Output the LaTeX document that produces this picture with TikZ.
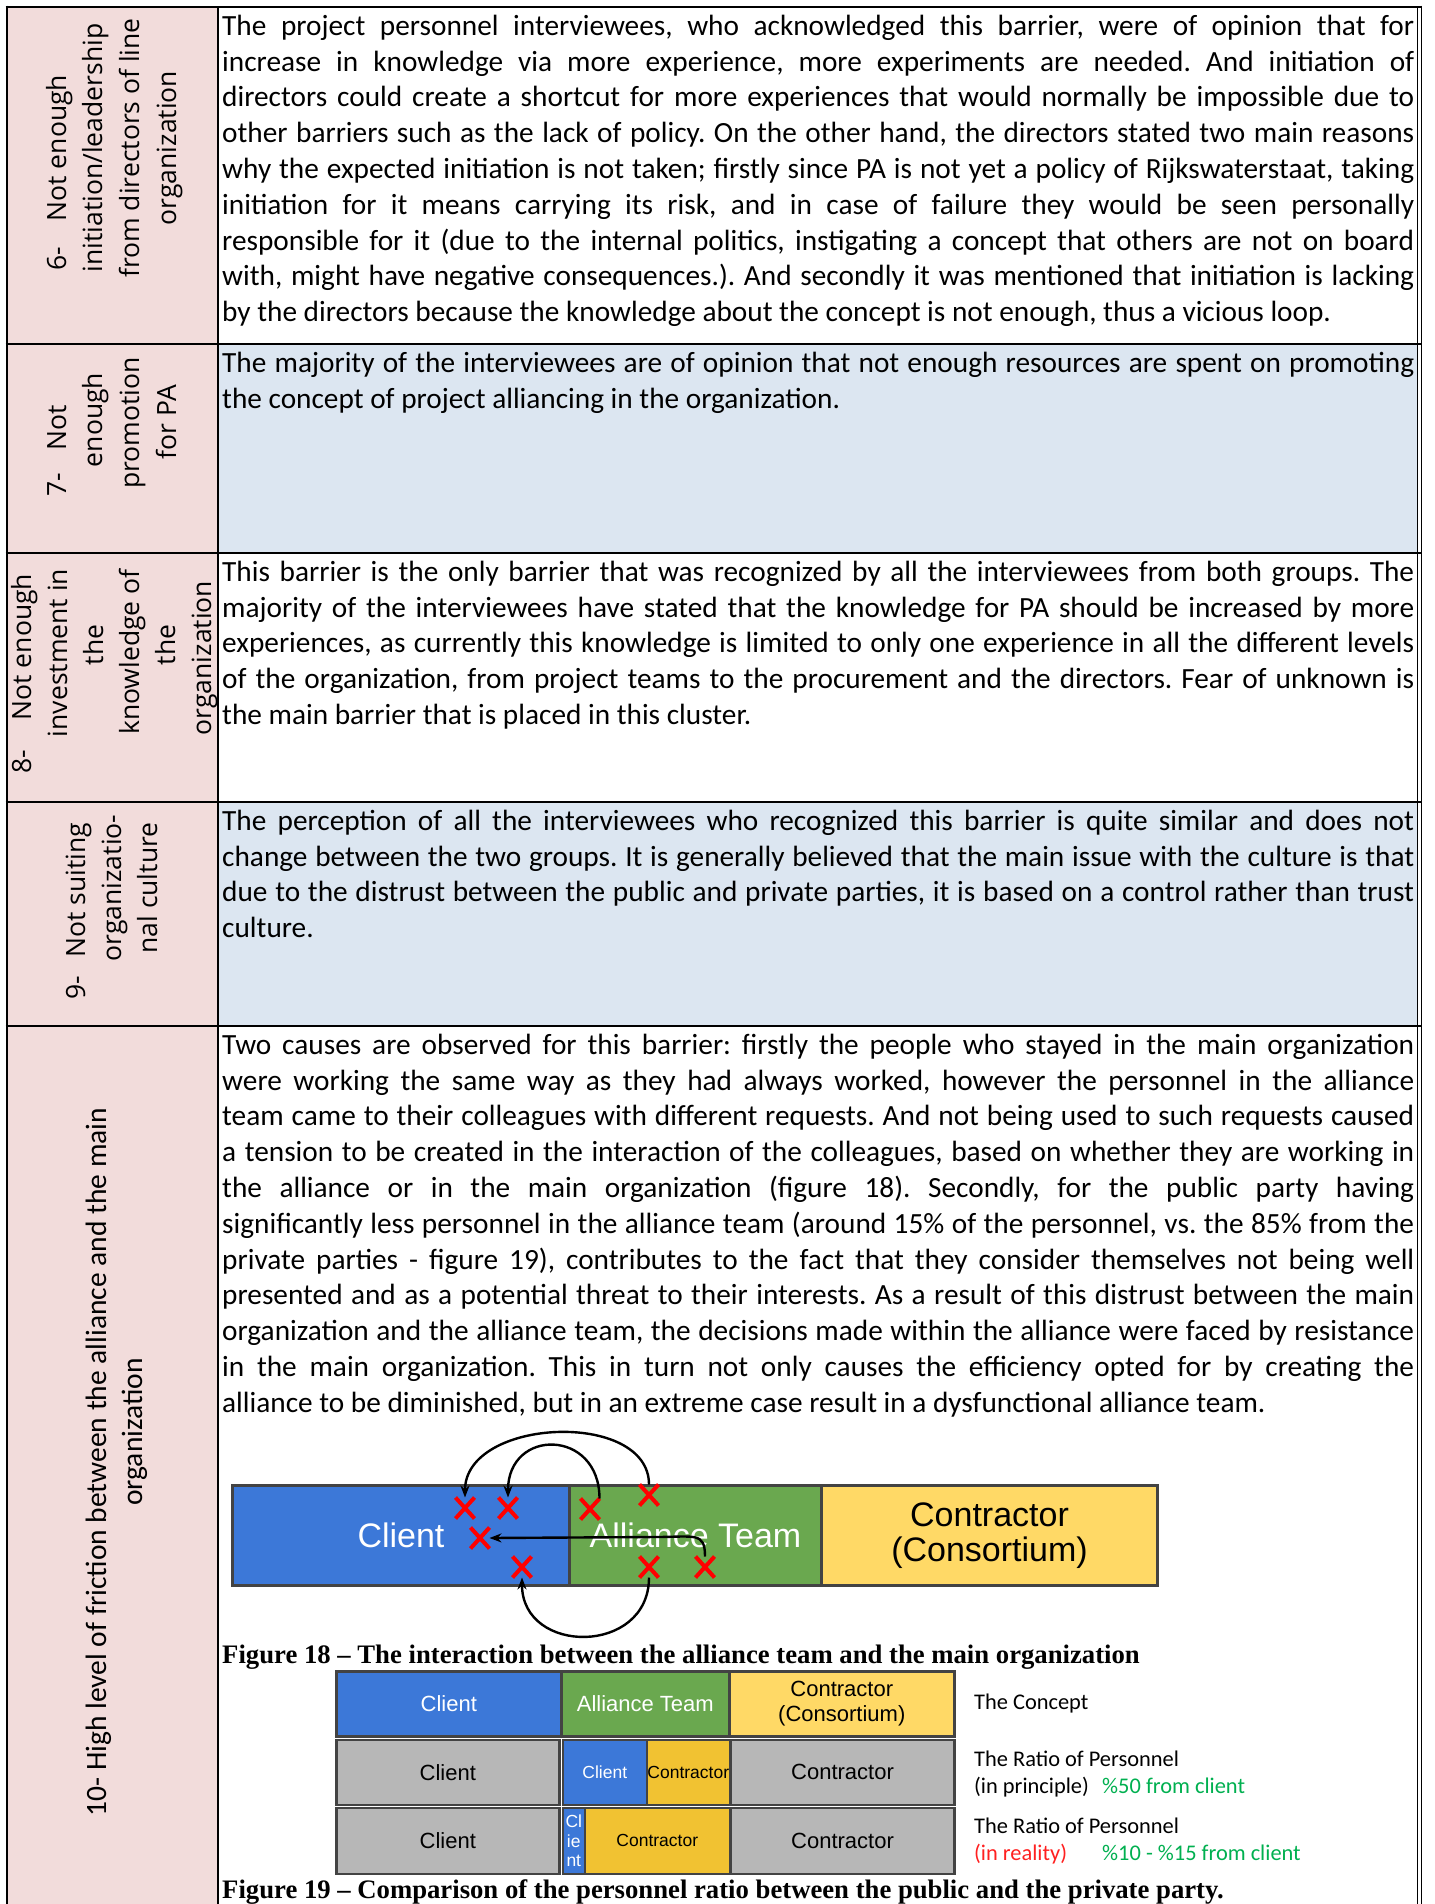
\documentclass[tikz,border=0pt]{standalone}
\usepackage{fontspec}
\setmainfont{Carlito}
\newfontfamily\osans{Open Sans}
\newfontfamily\arialf{Liberation Sans}
\newfontfamily\timesf{Liberation Serif}
\usetikzlibrary{arrows.meta,shapes.misc}

\definecolor{pinkcell}{HTML}{F2DCDB}
\definecolor{bluecell}{HTML}{DCE6F1}
\definecolor{cblue}{HTML}{3C78D8}
\definecolor{cgreen}{HTML}{6AA84F}
\definecolor{cyellow}{HTML}{FFD966}
\definecolor{cgold}{HTML}{F1C232}
\definecolor{cgray}{HTML}{B7B7B7}
\definecolor{cedge}{HTML}{434343}
\definecolor{okgreen}{HTML}{00B050}
\definecolor{badred}{HTML}{FF2020}

\newcommand\bodysetup{\fontsize{29.3}{35.8}\selectfont\frenchspacing
  \tolerance=10000\hyphenpenalty=10000\parindent=0pt}

\tikzset{
  rulestyle/.style={line width=2.6pt, black},
  bodytext/.style={anchor=north west, inner sep=0pt, text width=1192pt,
    align=justify, font=\bodysetup},
  lab/.style={rotate=90, anchor=base, inner sep=0pt,
    font=\osans\fontsize{26.5}{36}\selectfont},
  labten/.style={rotate=90, anchor=base, inner sep=0pt,
    font=\fontsize{29.5}{36}\selectfont},
  fcell/.style={draw=cedge, line width=3pt, anchor=north west, inner sep=0pt,
    align=center},
  bigtxt/.style={font=\arialf\fontsize{34}{35}\selectfont},
  midtxt/.style={font=\arialf\fontsize{22}{25}\selectfont},
  smalltxt/.style={font=\arialf\fontsize{17.5}{19.5}\selectfont},
  xmark/.style={cross out, draw=red, line width=4pt, minimum width=15pt,
    minimum height=17pt, inner sep=0pt},
  arr/.style={line width=2.4pt, black, -{Stealth[length=12pt,width=9pt]}},
  legtext/.style={anchor=base west, inner sep=0pt,
    font=\fontsize{22.4}{26}\selectfont},
  captext/.style={anchor=base west, inner sep=0pt,
    font=\timesf\bfseries\fontsize{26.7}{30}\selectfont},
}

\begin{document}
\begin{tikzpicture}[x=1pt,y=-1pt]
\useasboundingbox (0,0) rectangle (1435,1904);
\fill[white] (0,0) rectangle (1435,1904);

% cell shading
\fill[pinkcell] (7,7) rectangle (218,1910);
\fill[bluecell] (218,344) rectangle (1417,553);
\fill[bluecell] (218,802) rectangle (1417,1026);

% table rules
\draw[rulestyle] (7,5.7) -- (7,1910);
\draw[rulestyle] (218,7) -- (218,1910);
\draw[line width=1.4pt] (1417.5,7) -- (1417.5,1910);
\draw[line width=1.4pt] (1421.5,5.7) -- (1421.5,1910);
\foreach \yy in {7,344,553,802,1026}
  \draw[rulestyle] (5.7,\yy) -- (1422.2,\yy);

% row headings
\node[lab] (n6) at (66,259) {6-};
\node[lab] (l6a) at (66,148) {Not enough};
\node[lab] (l6b) at (102,148) {initiation/leadership};
\node[lab] (l6c) at (139,148) {from directors of line};
\node[lab] (l6d) at (176,148) {organization};

\node[lab] (n7) at (66,485) {7-};
\node[lab] (l7a) at (66,428) {Not};
\node[lab] (l7b) at (102,420) {enough};
\node[lab] (l7c) at (139,423) {promotion};
\node[lab] (l7d) at (176,422) {for PA};

\node[lab] (n8) at (31,762) {8-};
\node[lab] (l8a) at (31,647) {Not enough};
\node[lab] (l8b) at (67,653) {investment in};
\node[lab] (l8c) at (103,645) {the};
\node[lab] (l8d) at (139,652) {knowledge of};
\node[lab] (l8e) at (175,645) {the};
\node[lab] (l8f) at (211,658) {organization};

\node[lab] (n9) at (85,988) {9-};
\node[lab] (l9a) at (85,890) {Not suiting};
\node[lab] (l9b) at (121,888) {organizatio-};
\node[lab] (l9c) at (157,888) {nal culture};

\node[labten] (l10a) at (106,1462) {10- High level of friction between the alliance and the main};
\node[labten] (l10b) at (142,1432) {organization};

% descriptions
\node[bodytext] (t6) at (222,10) {\strut The project personnel interviewees, who acknowledged this barrier, were of opinion that for\linebreak
increase in knowledge via more experience, more experiments are needed. And initiation of\linebreak
directors could create a shortcut for more experiences that would normally be impossible due to\linebreak
other barriers such as the lack of policy. On the other hand, the directors stated two main reasons\linebreak
why the expected initiation is not taken; firstly since PA is not yet a policy of Rijkswaterstaat, taking\linebreak
initiation for it means carrying its risk, and in case of failure they would be seen personally\linebreak
responsible for it (due to the internal politics, instigating a concept that others are not on board\linebreak
with, might have negative consequences.). And secondly it was mentioned that initiation is lacking\linebreak
by the directors because the knowledge about the concept is not enough, thus a vicious loop.};

\node[bodytext] (t7) at (222,347) {\strut The majority of the interviewees are of opinion that not enough resources are spent on promoting\linebreak
the concept of project alliancing in the organization.};

\node[bodytext] (t8) at (222,556) {\strut This barrier is the only barrier that was recognized by all the interviewees from both groups. The\linebreak
majority of the interviewees have stated that the knowledge for PA should be increased by more\linebreak
experiences, as currently this knowledge is limited to only one experience in all the different levels\linebreak
of the organization, from project teams to the procurement and the directors. Fear of unknown is\linebreak
the main barrier that is placed in this cluster.};

\node[bodytext] (t9) at (222,805) {\strut The perception of all the interviewees who recognized this barrier is quite similar and does not\linebreak
change between the two groups. It is generally believed that the main issue with the culture is that\linebreak
due to the distrust between the public and private parties, it is based on a control rather than trust\linebreak
culture.};

\node[bodytext] (t10) at (222,1029) {\strut Two causes are observed for this barrier: firstly the people who stayed in the main organization\linebreak
were working the same way as they had always worked, however the personnel in the alliance\linebreak
team came to their colleagues with different requests. And not being used to such requests caused\linebreak
a tension to be created in the interaction of the colleagues, based on whether they are working in\linebreak
the alliance or in the main organization (figure 18). Secondly, for the public party having\linebreak
significantly less personnel in the alliance team (around 15\% of the personnel, vs. the 85\% from the\linebreak
private parties - figure 19), contributes to the fact that they consider themselves not being well\linebreak
presented and as a potential threat to their interests. As a result of this distrust between the main\linebreak
organization and the alliance team, the decisions made within the alliance were faced by resistance\linebreak
in the main organization. This in turn not only causes the efficiency opted for by creating the\linebreak
alliance to be diminished, but in an extreme case result in a dysfunctional alliance team.};

% interaction diagram
\node[fcell, fill=cblue, text=white, bigtxt, minimum width=337pt, minimum height=100pt] (a1) at (231,1484) {Client};
\node[fcell, fill=cgreen, text=white, bigtxt, minimum width=252pt, minimum height=100pt] (a2) at (568,1484) {Alliance Team};
\node[fcell, fill=cyellow, text=black, bigtxt, minimum width=336pt, minimum height=100pt] (a3) at (820,1484) {Contractor\\(Consortium)};

\node[xmark] (x1) at (465,1508) {};
\node[xmark] (x2) at (508,1508) {};
\node[xmark] (x3) at (590,1509) {};
\node[xmark] (x4) at (649,1495) {};
\node[xmark] (x5) at (480,1538) {};
\node[xmark] (x6) at (522,1567) {};
\node[xmark] (x7) at (649,1567) {};
\node[xmark] (x8) at (705,1567) {};

\coordinate (bend) at (655,1537);
\draw[arr] (x4.north) .. controls +(0,-75) and +(0,-80) .. (x1.north);
\draw[arr] (x3.north east) .. controls +(0,-70) and +(0,-70) .. (x2.north);
\draw[arr] (x8.north) .. controls +(0,-25) and +(40,0) .. (bend) -- (x5.east);
\draw[arr] (x7.south) .. controls +(0,78) and +(0,78) .. (x6.south);

\node[captext] (cap18) at (222,1663) {Figure 18 – The interaction between the alliance team and the main organization};

% personnel ratio diagram
\node[fcell, line width=2.6pt, fill=cblue, text=white, midtxt, minimum width=225pt, minimum height=65pt] (b1) at (335,1670) {Client};
\node[fcell, line width=2.6pt, fill=cgreen, text=white, midtxt, minimum width=168pt, minimum height=65pt] (b2) at (560,1670) {Alliance Team};
\node[fcell, line width=2.6pt, fill=cyellow, text=black, midtxt, minimum width=225pt, minimum height=65pt] (b3) at (728,1670) {Contractor\\(Consortium)};

\node[fcell, line width=2.6pt, fill=cgray, text=black, midtxt, minimum width=223pt, minimum height=65pt] (c1) at (335,1738.5) {Client};
\node[fcell, line width=2.6pt, fill=cblue, text=white, smalltxt, minimum width=84pt, minimum height=65pt] (c2) at (561.5,1738.5) {Client};
\node[fcell, line width=2.6pt, fill=cgold, text=black, smalltxt, minimum width=83pt, minimum height=65pt] (c3) at (645.5,1738.5) {Contractor};
\node[fcell, line width=2.6pt, fill=cgray, text=black, midtxt, minimum width=223.5pt, minimum height=65pt] (c4) at (729.5,1738.5) {Contractor};

\node[fcell, line width=2.6pt, fill=cgray, text=black, midtxt, minimum width=223pt, minimum height=66pt] (d1) at (335,1806.5) {Client};
\node[fcell, line width=2.6pt, fill=cblue, text=white, smalltxt, minimum width=22pt, minimum height=66pt] (d2) at (561.5,1806.5) {Cl\\ie\\nt};
\node[fcell, line width=2.6pt, fill=cgold, text=black, smalltxt, minimum width=145pt, minimum height=66pt] (d3) at (583.5,1806.5) {Contractor};
\node[fcell, line width=2.6pt, fill=cgray, text=black, midtxt, minimum width=223.5pt, minimum height=66pt] (d4) at (729.5,1806.5) {Contractor};

\node[legtext] (g1) at (974,1709) {The Concept};
\node[legtext] (g2) at (974,1766) {The Ratio of Personnel};
\node[legtext] (g3) at (974,1793) {(in principle)};
\node[legtext, text=okgreen] (g4) at (1102,1793) {\%50 from client};
\node[legtext] (g5) at (974,1833) {The Ratio of Personnel};
\node[legtext, text=badred] (g6) at (974,1860) {(in reality)};
\node[legtext, text=okgreen] (g7) at (1102,1860) {\%10 - \%15 from client};

\node[captext] (cap19) at (222,1898) {Figure 19 – Comparison of the personnel ratio between the public and the private party.};
\end{tikzpicture}
\end{document}
